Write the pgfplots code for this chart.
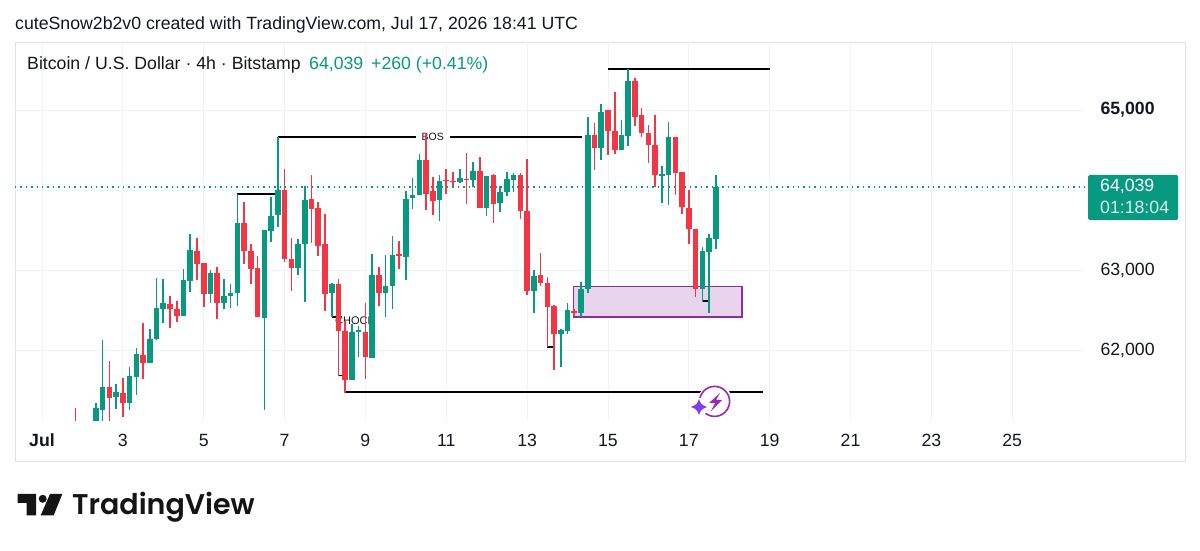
\documentclass[border=0pt]{standalone}
\usepackage{pgfplots}
\pgfplotsset{compat=1.18}
\usepackage{pgfplotstable}
\usepackage{fontspec}
\setmainfont{Liberation Sans}
\newfontfamily\tvfont{Poppins SemiBold}
\definecolor{tvup}{HTML}{089981}
\definecolor{tvdown}{HTML}{F23645}
\definecolor{tvgrid}{HTML}{F0F3FA}
\definecolor{tvframe}{HTML}{E0E3EB}
\definecolor{tvtext}{HTML}{131722}
\definecolor{boxline}{HTML}{8E2C9E}
\definecolor{boxfill}{HTML}{E9D4EE}
\definecolor{boltc}{HTML}{9C27B0}
\definecolor{starc}{HTML}{7E3FF2}
% candle number (4h from Jul 1), body top, body bottom, high, low
\pgfplotstableread{
n t b h l
8 61279 60999 61334 60875
9 61541 61250 62125 61000
11 61475 61409 61575 61259
13 61671 61341 61784 61250
14 61950 61666 62021 61437
16 62137 61841 62259 61841
17 62521 62137 62896 62125
18 62584 62516 62884 62341
21 62875 62425 63012 62425
22 63250 62866 63450 62729
25 62959 62700 63000 62591
27 62675 62587 62884 62509
28 62716 62675 62825 62529
29 63587 62712 63950 62550
33 63500 62404 63500 61250
34 63675 63487 63916 63354
35 63996 63691 64662 63541
38 63329 63021 63387 62937
39 63875 63325 64050 62596
43 62829 62712 62841 62416
46 62221 61621 62325 61621
47 62250 62225 62300 61909
49 62937 61904 63196 61904
51 62804 62712 63187 62416
52 63184 62796 63429 62509
54 63891 63166 63991 62879
55 63937 63900 64154 63762
56 64375 63937 64446 63937
59 64116 63875 64184 63616
62 64146 64104 64259 64091
64 64237 64125 64346 64041
66 64179 63775 64179 63675
68 63975 63834 64054 63729
69 64134 63975 64225 63925
70 64187 64125 64216 63971
73 62925 62737 63004 62459
77 62250 62200 62262 61791
78 62500 62241 62591 62200
80 62762 62459 62846 62416
81 64687 62759 64909 62709
83 64975 64521 65071 64375
86 64687 64500 64875 64500
87 65366 64679 65509 64550
92 64200 64175 64300 63834
93 64659 64191 64846 63812
98 63237 62759 63291 62604
99 63396 63225 63450 62459
100 64039 63387 64184 63262
}\upcandles
\pgfplotstableread{
n t b h l
5 61062 60937 61275 60875
10 61541 61404 61866 61000
12 61459 61341 61650 61159
15 61934 61841 62334 61637
19 62575 62509 62675 62279
20 62509 62425 62612 62354
23 63237 63075 63396 62875
24 63087 62700 63087 62541
26 62959 62587 63041 62384
30 63584 63234 63854 63075
31 63237 63016 63321 62821
32 63021 62412 63171 62412
36 64000 63134 64262 63104
37 63134 63021 63396 62741
40 63884 63759 64187 63334
41 63771 63300 63854 63175
42 63321 62696 63700 62487
44 62829 62237 62884 61679
45 62237 61629 62362 61466
48 62229 61909 62584 61637
50 62937 62712 63034 62554
53 63196 63179 63366 63016
57 64375 63954 64712 63746
58 63984 63866 64166 63691
60 64125 64109 64259 63946
61 64116 64100 64225 64050
63 64137 64121 64459 63821
65 64237 63775 64416 63775
67 64187 63829 64200 63591
71 64187 63741 64216 63634
72 63741 62737 64384 62691
74 62934 62834 63216 62800
75 62834 62541 62912 62041
76 62550 62196 62559 61750
79 62484 62459 62512 62425
82 64691 64521 64841 64250
84 65004 64737 65004 64437
85 64737 64500 65225 64446
88 65366 64916 65396 64800
89 64937 64709 65021 64659
90 64712 64559 64809 64334
91 64562 64187 64937 64034
94 64659 64216 64659 63941
95 64221 63784 64221 63700
96 63775 63512 64000 63329
97 63516 62759 63516 62659
}\downcandles
\newcommand{\candles}[2]{%
  \addplot[draw=none, no marks, forget plot, error bars/.cd, y dir=both, y explicit, error mark=none,
    error bar style={draw=#2, line width=1.6pt}]
    table[x=n, y=t, y error plus expr=\thisrow{h}-\thisrow{t}, y error minus expr=\thisrow{t}-\thisrow{l}] {#1};
  \addplot[draw=none, no marks, forget plot, error bars/.cd, y dir=both, y explicit, error mark=none,
    error bar style={draw=#2, line width=5.6pt}]
    table[x=n, y=t, y error plus expr=0, y error minus expr=\thisrow{t}-\thisrow{b}] {#1};
}
\begin{document}
\begin{tikzpicture}[x=1pt,y=1pt]
\path[use as bounding box, fill=white] (0,0) rectangle (1200,551);
\draw[tvframe, line width=0.8pt] (15,90) rectangle (1185,509);
\node[anchor=base west, inner sep=0pt, text=tvtext, font=\fontsize{17.7}{20}\selectfont] at (15,521.5) {cuteSnow2b2v0 created with TradingView.com, Jul 17, 2026 18:41 UTC};
\begin{axis}[
  at={(15pt,130pt)}, anchor=south west,
  scale only axis, width=1070pt, height=379pt,
  xmin=-4.008, xmax=154.8, ymin=61112.5, ymax=65850,
  axis line style={draw=none}, major tick length=0pt,
  grid=major, grid style={tvgrid, line width=0.9pt},
  scaled y ticks=false,
  xtick={0,12,...,144},
  xticklabels={\textbf{Jul},3,5,7,9,11,13,15,17,19,21,23,25},
  ytick={62000,63000,64000,65000},
  yticklabels={62{,}000,63{,}000,,\textbf{65{,}000}},
  yticklabel pos=right,
  x tick label style={font=\fontsize{17.7}{20}\selectfont, text=tvtext, anchor=base, yshift=-26pt},
  y tick label style={font=\fontsize{17.7}{20}\selectfont, text=tvtext, anchor=west, xshift=12pt},
  clip=true,
]
\addplot[forget plot, tvup, line width=1.3pt, dash pattern=on 1.3pt off 4.1pt] coordinates {(-4.008,64039) (154.8,64039)};
\addplot[forget plot, draw=boxline, fill=boxfill, line width=1.3pt] coordinates {(78.9,62791) (103.9,62791) (103.9,62412) (78.9,62412)} -- cycle;
\addplot[forget plot, black, line width=1.6pt] coordinates {(29,63950) (35,63950)};
\addplot[forget plot, black, line width=1.6pt] coordinates {(35,64659) (80.2,64659)};
\addplot[forget plot, black, line width=1.6pt] coordinates {(84,65512) (108,65512)};
\addplot[forget plot, black, line width=1.6pt] coordinates {(43,62416) (44.5,62416)};
\addplot[forget plot, black, line width=1.6pt] coordinates {(44,61679) (45,61679)};
\addplot[forget plot, black, line width=1.6pt] coordinates {(45,61475) (107,61475)};
\addplot[forget plot, black, line width=1.6pt] coordinates {(75,62041) (76,62041)};
\addplot[forget plot, black, line width=1.6pt] coordinates {(98,62609) (99,62609)};
\node[fill=white, inner sep=1.5pt, minimum width=34pt, text=tvtext, font=\fontsize{10.5}{12}\selectfont] at (axis cs:58,64659) {BOS};
\node[inner sep=0pt, text=tvtext, font=\fontsize{11}{12}\selectfont] at (axis cs:46.5,62362) {CHOCH};
\candles{\upcandles}{tvup}
\candles{\downcandles}{tvdown}
\end{axis}
% price tag
\fill[tvup, rounded corners=1.5pt] (1088,331) rectangle (1178,376);
\node[anchor=base west, inner sep=0pt, text=white, font=\fontsize{17.7}{20}\selectfont] at (1100,359) {64,039};
\node[anchor=base west, inner sep=0pt, text=white!85!tvup, font=\fontsize{17.7}{20}\selectfont] at (1100,337) {01:18:04};
% legend line
\node[anchor=base west, inner sep=0pt, text=tvtext, font=\fontsize{17.7}{20}\selectfont] at (27,481) {Bitcoin / U.S. Dollar · 4h · Bitstamp};
\node[anchor=base west, inner sep=0pt, text=tvup, font=\fontsize{17.7}{20}\selectfont] at (309,481) {64,039};
\node[anchor=base west, inner sep=0pt, text=tvup, font=\fontsize{17.7}{20}\selectfont] at (371,481) {+260 (+0.41\%)};
% sparkle badge
\fill[white] (715,150) circle (17);
\draw[boltc, line width=1.6pt] (704,139) arc[start angle=225, end angle=-165, radius=15];
\fill[boltc] (720,158) -- (709,148) -- (715,148) -- (711,140) -- (722,151) -- (716,151) -- cycle;
\fill[white] (699,144) circle (9);
\fill[starc] (699,152) .. controls (700.5,147.5) and (701.5,146) .. (707,144) .. controls (701.5,142) and (700.5,140.5) .. (699,136) .. controls (697.5,140.5) and (696.5,142) .. (691,144) .. controls (696.5,146) and (697.5,147.5) .. (699,152) -- cycle;
% TradingView logo
\fill[black!92] (17.7,57) -- (36,57) -- (36,35.7) -- (26.7,35.7) -- (26.7,48) -- (17.7,48) -- cycle;
\fill[black!92] (42.7,52.2) circle (4);
\fill[black!92] (50,57) -- (62.3,57) -- (53.7,35.7) -- (40.7,35.7) -- cycle;
\node[anchor=base west, inner sep=0pt, text=black!92, font=\tvfont\fontsize{28.5}{32}\selectfont] at (72,36) {TradingView};
\end{tikzpicture}
\end{document}
